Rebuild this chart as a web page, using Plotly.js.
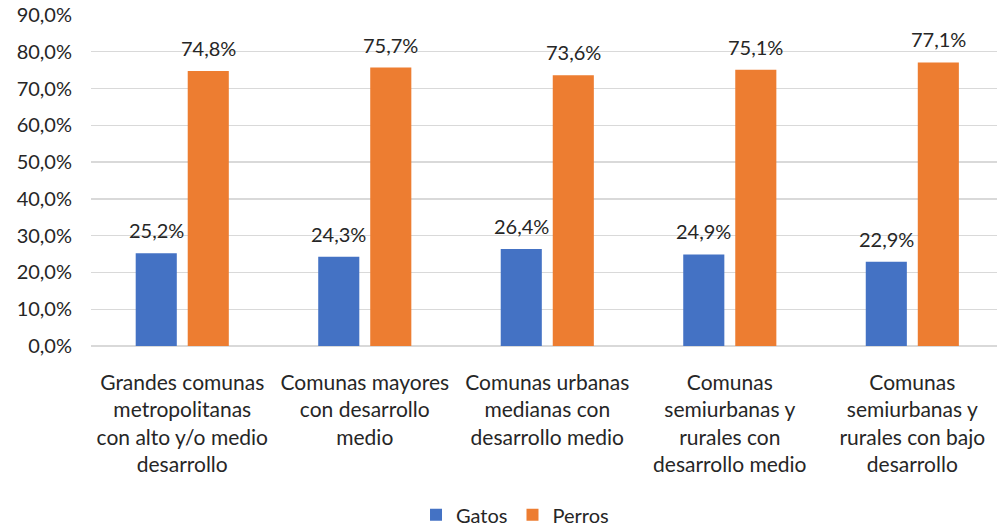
<!DOCTYPE html>
<html>
<head>
<meta charset="utf-8">
<script src="https://cdn.plot.ly/plotly-3.0.1.min.js"></script>
<style>html,body{margin:0;padding:0;background:#fff;overflow:hidden;}#chart{width:997px;height:540px;}</style>
</head>
<body>
<div id="chart"></div>
<script>
var categories = [
  "Grandes comunas<br>metropolitanas<br>con alto y/o medio<br>desarrollo",
  "Comunas mayores<br>con desarrollo<br>medio",
  "Comunas urbanas<br>medianas con<br>desarrollo medio",
  "Comunas<br>semiurbanas y<br>rurales con<br>desarrollo medio",
  "Comunas<br>semiurbanas y<br>rurales con bajo<br>desarrollo"
];
var gatos = [0.252, 0.243, 0.264, 0.249, 0.229];
var perros = [0.748, 0.757, 0.736, 0.751, 0.771];
var seriesNames = ["Gatos", "Perros"];

var font = "Lato, 'Open Sans', sans-serif";
var txt = "#262626";

function fmt(v) { return (v * 100).toFixed(1).replace(".", ",") + "%"; }

var traces = [
  {type: "bar", name: seriesNames[0], x: categories, y: gatos,
   marker: {color: "#4472C4"}, hoverinfo: "none"},
  {type: "bar", name: seriesNames[1], x: categories, y: perros,
   marker: {color: "#ED7D31"}, hoverinfo: "none"}
];

var annotations = [];
[gatos, perros].forEach(function (series, si) {
  series.forEach(function (v, j) {
    annotations.push({
      x: categories[j], y: v, xref: "x", yref: "y",
      text: fmt(v), showarrow: false, yanchor: "bottom", xanchor: "center",
      xshift: si === 0 ? -26 : 26, yshift: 9,
      font: {family: font, size: 20, color: txt}
    });
  });
});

var layout = {
  width: 997, height: 540,
  margin: {l: 91, r: 0, t: 15, b: 194},
  separators: ",.",
  paper_bgcolor: "#fff", plot_bgcolor: "#fff",
  font: {family: font, color: txt, size: 20},
  barmode: "group", bargap: 0.43, bargroupgap: 0.21,
  annotations: annotations,
  xaxis: {type: "category", range: [-0.5, 4.464], showgrid: false, zeroline: false,
          showline: false, ticks: "", automargin: false,
          tickfont: {family: font, size: 21, color: txt},
          ticklabelstandoff: 22, fixedrange: true},
  yaxis: {range: [0, 0.9], dtick: 0.1, tickformat: ".1%", showgrid: true,
          gridcolor: "#d9d9d9", gridwidth: 1.3, zeroline: true, zerolinecolor: "#d9d9d9",
          zerolinewidth: 1.5, showline: false, ticks: "", automargin: false,
          tickfont: {family: font, size: 20, color: txt}, ticklabelstandoff: 18, fixedrange: true},
  showlegend: true,
  legend: {orientation: "h", x: 0.468, xanchor: "center", y: -0.51, yanchor: "middle",
           itemwidth: 30, font: {family: font, size: 20, color: txt}, traceorder: "normal"}
};

Plotly.newPlot("chart", traces, layout, {staticPlot: true, displayModeBar: false});
</script>
</body>
</html>
